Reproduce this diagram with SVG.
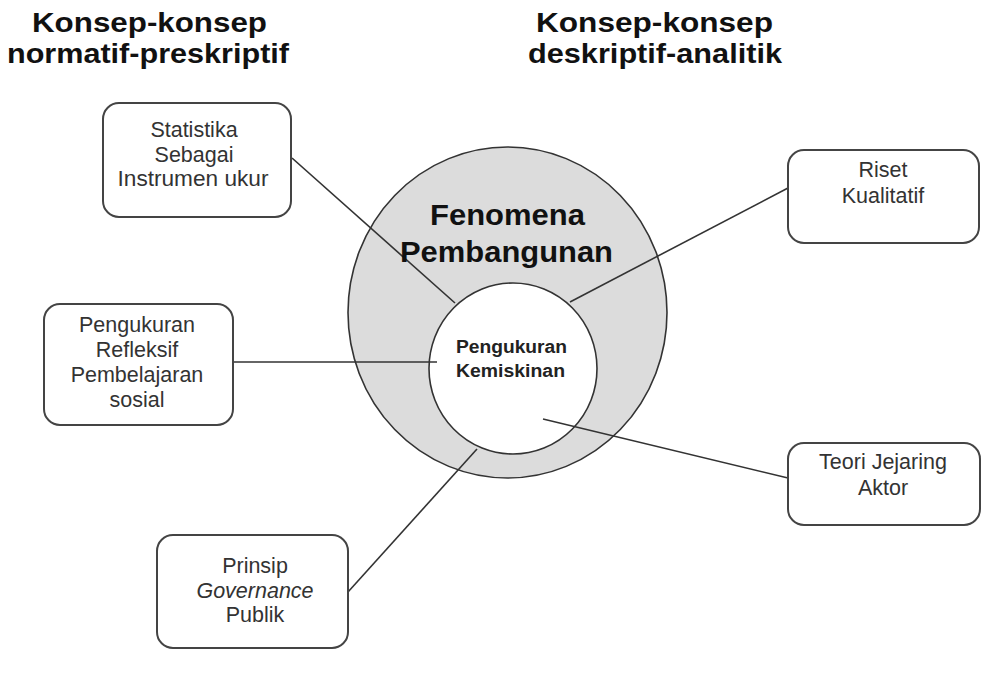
<svg xmlns="http://www.w3.org/2000/svg" width="998" height="678" viewBox="0 0 998 678">
<style>
.title{font-family:"Liberation Sans",Arial,sans-serif;font-weight:bold;font-size:27px;fill:#111;text-anchor:middle}
.box{fill:#fff;stroke:#444;stroke-width:2}
.lbl{font-family:"Liberation Sans",Arial,sans-serif;font-size:21.5px;fill:#333;text-anchor:middle}
.big{font-family:"Liberation Sans",Arial,sans-serif;font-weight:bold;font-size:29px;fill:#111;text-anchor:middle}
.mid{font-family:"Liberation Sans",Arial,sans-serif;font-weight:bold;font-size:17.5px;fill:#222;text-anchor:middle}
.conn line{stroke:#333;stroke-width:1.6}
</style>
<rect width="998" height="678" fill="#fff"/>
<g id="titles">
<text class="title" x="149.5" y="32" textLength="235" lengthAdjust="spacingAndGlyphs">Konsep-konsep</text>
<text class="title" x="148" y="63" textLength="282" lengthAdjust="spacingAndGlyphs">normatif-preskriptif</text>
<text class="title" x="654.5" y="32" textLength="237" lengthAdjust="spacingAndGlyphs">Konsep-konsep</text>
<text class="title" x="655" y="63" textLength="254" lengthAdjust="spacingAndGlyphs">deskriptif-analitik</text>
</g>
<g id="fenomena">
<ellipse cx="507.5" cy="312.5" rx="159.5" ry="165.5" fill="#dcdcdc" stroke="#333" stroke-width="1.6"/>
</g>
<g id="pengukuran-kemiskinan">
<ellipse cx="513" cy="368.5" rx="84" ry="85.5" fill="#fff" stroke="#333" stroke-width="1.6"/>
</g>
<g class="conn" id="connectors">
<line x1="292" y1="158" x2="455" y2="303"/>
<line x1="233" y1="362" x2="437" y2="362"/>
<line x1="348" y1="592" x2="477" y2="449"/>
<line x1="788" y1="188" x2="570" y2="302"/>
<line x1="788" y1="478" x2="543" y2="419"/>
</g>
<g id="fenomena-label">
<text class="big" x="507.5" y="225" textLength="155" lengthAdjust="spacingAndGlyphs">Fenomena</text>
<text class="big" x="506.5" y="262" textLength="213" lengthAdjust="spacingAndGlyphs">Pembangunan</text>
</g>
<g id="pengukuran-label">
<text class="mid" x="511.5" y="353" textLength="111" lengthAdjust="spacingAndGlyphs">Pengukuran</text>
<text class="mid" x="510.5" y="377" textLength="109" lengthAdjust="spacingAndGlyphs">Kemiskinan</text>
</g>
<g id="statistika">
<rect class="box" x="103" y="103" width="188" height="114" rx="16"/>
<text class="lbl" x="194" y="137">Statistika</text>
<text class="lbl" x="194" y="161.5">Sebagai</text>
<text class="lbl" x="193" y="186" textLength="151" lengthAdjust="spacingAndGlyphs">Instrumen ukur</text>
</g>
<g id="pengukuran-refleksif">
<rect class="box" x="44" y="304" width="189" height="121" rx="16"/>
<text class="lbl" x="137" y="332">Pengukuran</text>
<text class="lbl" x="137" y="357">Refleksif</text>
<text class="lbl" x="137" y="382">Pembelajaran</text>
<text class="lbl" x="137" y="407">sosial</text>
</g>
<g id="prinsip-governance">
<rect class="box" x="157" y="535" width="191" height="113" rx="16"/>
<text class="lbl" x="255" y="573">Prinsip</text>
<text class="lbl" x="255" y="598" font-style="italic">Governance</text>
<text class="lbl" x="255" y="622">Publik</text>
</g>
<g id="riset-kualitatif">
<rect class="box" x="788" y="150" width="191" height="93" rx="16"/>
<text class="lbl" x="883" y="177">Riset</text>
<text class="lbl" x="883" y="203">Kualitatif</text>
</g>
<g id="teori-jejaring-aktor">
<rect class="box" x="788" y="443" width="192" height="82" rx="16"/>
<text class="lbl" x="883" y="469">Teori Jejaring</text>
<text class="lbl" x="883" y="495">Aktor</text>
</g>
</svg>
